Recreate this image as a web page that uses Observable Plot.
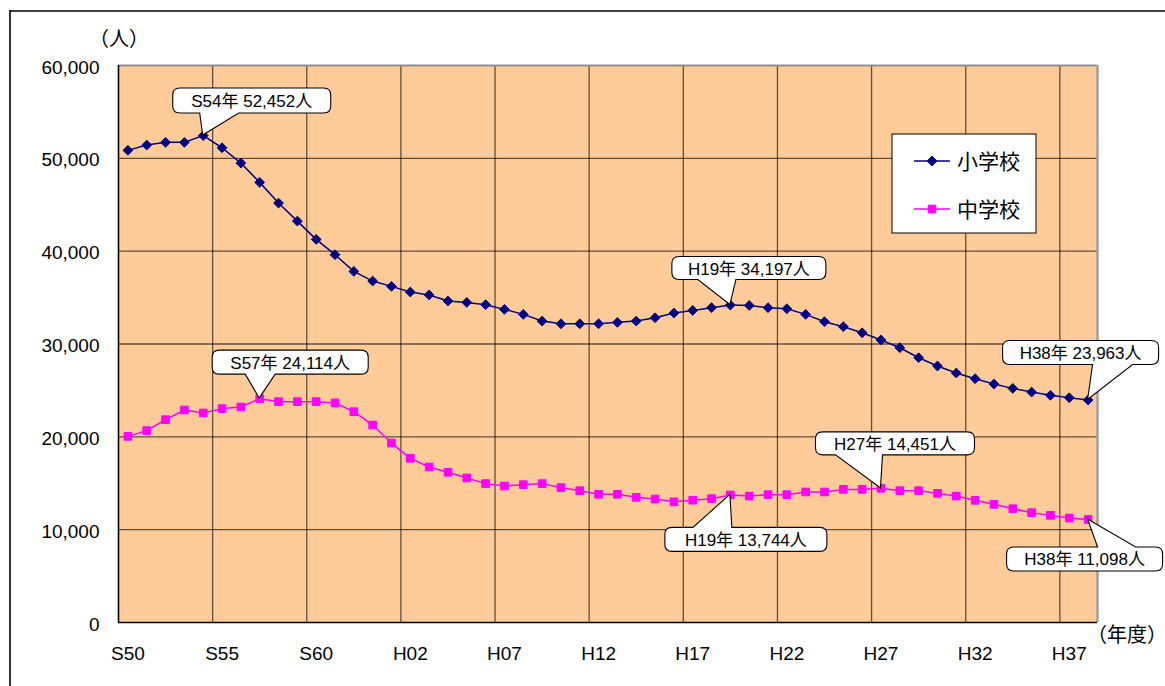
<!DOCTYPE html>
<html>
<head>
<meta charset="utf-8">
<script src="https://cdn.jsdelivr.net/npm/d3@7"></script>
<script src="https://cdn.jsdelivr.net/npm/@observablehq/plot@0.6"></script>
<style>
  html, body { margin: 0; padding: 0; background: #fff; }
  #chart { width: 1165px; height: 686px; }
  svg { display: block; }
</style>
</head>
<body>
<div id="chart"></div>
<script>
// ---------- data ----------
const years = [
  "S50","S51","S52","S53","S54","S55","S56","S57","S58","S59","S60","S61","S62","S63",
  "H01","H02","H03","H04","H05","H06","H07","H08","H09","H10","H11","H12","H13","H14",
  "H15","H16","H17","H18","H19","H20","H21","H22","H23","H24","H25","H26","H27","H28",
  "H29","H30","H31","H32","H33","H34","H35","H36","H37","H38"
];
const tickLabels = ["S50","S55","S60","H02","H07","H12","H17","H22","H27","H32","H37"];
const seriesNames = ["小学校", "中学校"];
const elementary = [
  50860, 51430, 51720, 51720, 52452, 51140, 49490, 47410, 45180, 43240, 41270, 39620, 37820, 36780,
  36210, 35600, 35280, 34630, 34480, 34230, 33730, 33190, 32470, 32180, 32180, 32180, 32330, 32470,
  32830, 33330, 33620, 33910, 34197, 34150, 33910, 33800, 33190, 32400, 31860, 31210, 30430, 29600,
  28520, 27630, 26870, 26260, 25690, 25220, 24820, 24470, 24210, 23963
];
const juniorHigh = [
  20050, 20670, 21850, 22890, 22570, 23040, 23210, 24114, 23790, 23790, 23790, 23650, 22710, 21270,
  19330, 17680, 16750, 16180, 15570, 14960, 14700, 14850, 14960, 14530, 14200, 13810, 13810, 13480,
  13300, 13000, 13170, 13340, 13744, 13620, 13770, 13770, 14060, 14060, 14340, 14340, 14451, 14200,
  14200, 13910, 13620, 13160, 12730, 12260, 11830, 11540, 11250, 11098
];
const yTicks = [0, 10000, 20000, 30000, 40000, 50000, 60000];
const yUnit = "（人）";
const xUnit = "（年度）";
// annotated points: [series, year]
const callouts = [
  ["小学校", "S54"], ["小学校", "H19"], ["小学校", "H38"],
  ["中学校", "S57"], ["中学校", "H19"], ["中学校", "H27"], ["中学校", "H38"]
];

// ---------- styling ----------
const FONT = '"Liberation Sans", "Noto Sans CJK JP", Arial, sans-serif';
const colors = {"小学校": "#000080", "中学校": "#FF00FF"};
const symbols = {"小学校": "diamond2", "中学校": "square"};
const radii = {"小学校": 4.4, "中学校": 4.3};
// callout box geometry relative to the pointed data point (pixels)
const calloutGeom = [
  {dx: -30, dy: -47, w: 158, h: 25, b0: -3,  b1: 36},
  {dx: -58, dy: -48, w: 154, h: 23, b0: -32, b1: 6},
  {dx: -85, dy: -59, w: 156, h: 24, b0: 5,   b1: 45},
  {dx: -47, dy: -48, w: 156, h: 24, b0: -14, b1: 16},
  {dx: -65, dy: 33,  w: 162, h: 24, b0: -37, b1: 2},
  {dx: -65, dy: -56, w: 159, h: 23, b0: -45, b1: 2},
  {dx: -81, dy: 28,  w: 156, h: 24, b0: 10,  b1: 48}
];

// ---------- tidy table ----------
const valuesBySeries = {"小学校": elementary, "中学校": juniorHigh};
const rows = [];
seriesNames.forEach(s => years.forEach((y, i) => rows.push({series: s, i, year: y, value: valuesBySeries[s][i]})));
const seriesRows = s => rows.filter(d => d.series === s);

const boundaries = tickLabels.map(t => years.indexOf(t) - 0.5).filter(b => b > -0.5);
const tickIdx = tickLabels.map(t => years.indexOf(t));
const gridStyle = {stroke: "#000", strokeOpacity: 0.62, strokeWidth: 1.3};

const marks = [
  Plot.frame({fill: "#FFCC99", stroke: null}),
  Plot.ruleY(yTicks.filter(v => v > 0 && v < 60000), gridStyle),
  Plot.ruleX(boundaries, gridStyle),
  Plot.ruleY([60000], {stroke: "#8f8f8f", strokeWidth: 2}),
  Plot.ruleX([years.length - 0.5], {stroke: "#a0a0a0", strokeWidth: 2.5}),
  Plot.ruleY([0], {stroke: "#000", strokeWidth: 1.6}),
  Plot.ruleX([-0.5], {stroke: "#000", strokeWidth: 1.6}),
  Plot.axisY({ticks: yTicks, tickFormat: d3.format(","), tickSize: 0, tickPadding: 19, label: null, dy: 2}),
  Plot.axisX({ticks: tickIdx, tickFormat: i => years[i], tickSize: 0, tickPadding: 24, label: null})
];
seriesNames.forEach(s => {
  const data = seriesRows(s);
  marks.push(Plot.line(data, {x: "i", y: "value", stroke: colors[s], strokeWidth: 1.5}));
  marks.push(Plot.dot(data, {x: "i", y: "value", symbol: symbols[s], r: radii[s], fill: colors[s], stroke: colors[s], strokeWidth: 1}));
});

const plot = Plot.plot({
  width: 1165, height: 686,
  marginLeft: 118, marginRight: 68, marginTop: 65, marginBottom: 64,
  style: {fontFamily: FONT, fontSize: "19px", color: "#000", background: "#fff", overflow: "visible"},
  x: {type: "linear", domain: [-0.5, years.length - 0.5], label: null},
  y: {domain: [0, 60000], label: null},
  marks
});
document.getElementById("chart").appendChild(plot);

// ---------- annotations using the plot's own scales ----------
function scaleFn(name) {
  const sc = plot.scale(name);
  if (sc && typeof sc.apply === "function") return v => sc.apply(v);
  return d3.scaleLinear(sc.domain, sc.range);
}
const fx = scaleFn("x"), fy = scaleFn("y");
const svg = d3.select(plot);

// outer frame lines
svg.append("line").attr("x1", 10).attr("x2", 1165).attr("y1", 11).attr("y2", 11).attr("stroke", "#000").attr("stroke-width", 1.6);
svg.append("line").attr("x1", 10).attr("x2", 10).attr("y1", 10).attr("y2", 686).attr("stroke", "#000").attr("stroke-width", 1.6);

// unit labels
svg.append("text").text(yUnit).attr("x", 119).attr("y", 39).attr("text-anchor", "middle")
  .attr("dominant-baseline", "central").attr("font-family", FONT).attr("font-size", 20).attr("fill", "#000");
svg.append("text").text(xUnit).attr("x", 1127).attr("y", 635).attr("text-anchor", "middle")
  .attr("dominant-baseline", "central").attr("font-family", FONT).attr("font-size", 20).attr("fill", "#000");

function calloutPath(x0, y0, x1, y1, r, bx0, bx1, tx, ty, below) {
  if (!below) {
    return `M${x0 + r},${y0} H${x1 - r} Q${x1},${y0} ${x1},${y0 + r} V${y1 - r} Q${x1},${y1} ${x1 - r},${y1}` +
      ` H${bx1} L${tx},${ty} L${bx0},${y1} H${x0 + r} Q${x0},${y1} ${x0},${y1 - r} V${y0 + r} Q${x0},${y0} ${x0 + r},${y0} Z`;
  }
  return `M${x0 + r},${y0} H${bx0} L${tx},${ty} L${bx1},${y0} H${x1 - r} Q${x1},${y0} ${x1},${y0 + r} V${y1 - r} Q${x1},${y1} ${x1 - r},${y1}` +
    ` H${x0 + r} Q${x0},${y1} ${x0},${y1 - r} V${y0 + r} Q${x0},${y0} ${x0 + r},${y0} Z`;
}
const fmt = d3.format(",");
const gCall = svg.append("g");
callouts.forEach(([s, y], k) => {
  const d = rows.find(r => r.series === s && r.year === y);
  const g = calloutGeom[k];
  const tx = fx(d.i), ty = fy(d.value);
  const x0 = tx + g.dx, y0 = ty + g.dy, x1 = x0 + g.w, y1 = y0 + g.h;
  const below = g.dy > 0;
  gCall.append("path")
    .attr("d", calloutPath(x0, y0, x1, y1, 7, tx + g.b0, tx + g.b1, tx, ty, below))
    .attr("fill", "#fff").attr("stroke", "#000").attr("stroke-width", 1.1);
  gCall.append("text").text(`${d.year}年 ${fmt(d.value)}人`)
    .attr("x", (x0 + x1) / 2).attr("y", (y0 + y1) / 2 + 1).attr("text-anchor", "middle")
    .attr("dominant-baseline", "central").attr("font-family", FONT).attr("font-size", 17).attr("fill", "#000");
});

// legend
const lg = svg.append("g");
lg.append("rect").attr("x", 892).attr("y", 134).attr("width", 144).attr("height", 99)
  .attr("fill", "#fff").attr("stroke", "#000").attr("stroke-width", 1);
seriesNames.forEach((s, k) => {
  const cy = 161 + k * 48;
  lg.append("line").attr("x1", 914).attr("x2", 950).attr("y1", cy).attr("y2", cy)
    .attr("stroke", colors[s]).attr("stroke-width", 1.5);
  const sym = s === "小学校" ? d3.symbolDiamond2 : d3.symbolSquare;
  lg.append("path").attr("d", d3.symbol(sym, Math.PI * radii[s] * radii[s])())
    .attr("transform", `translate(932,${cy})`).attr("fill", colors[s]).attr("stroke", colors[s]).attr("stroke-width", 1);
  lg.append("text").text(s).attr("x", 957).attr("y", cy).attr("text-anchor", "start").attr("dominant-baseline", "central")
    .attr("font-family", FONT).attr("font-size", 21).attr("fill", "#000");
});
</script>
</body>
</html>
